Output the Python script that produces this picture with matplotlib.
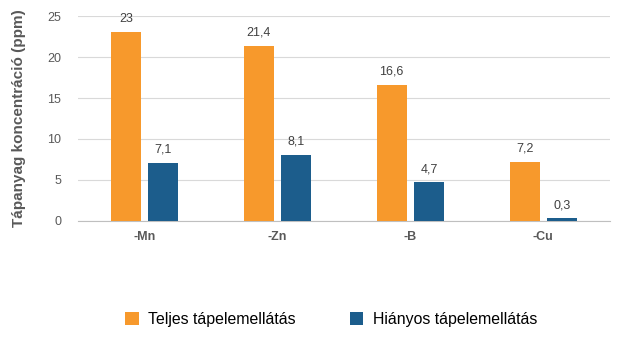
import matplotlib
matplotlib.use('Agg')
import matplotlib.pyplot as plt
import numpy as np

plt.rcParams['font.family'] = ['Liberation Sans', 'DejaVu Sans']

categories = ['-Mn', '-Zn', '-B', '-Cu']
teljes = [23, 21.4, 16.6, 7.2]
hianyos = [7.1, 8.1, 4.7, 0.3]
labels_teljes = ['23', '21,4', '16,6', '7,2']
labels_hianyos = ['7,1', '8,1', '4,7', '0,3']

ORANGE = '#F7992C'
BLUE = '#1C5D8C'
GRID = '#D9D9D9'
TXT = '#595959'

fig = plt.figure(figsize=(6.19, 3.42), dpi=100)
ax = fig.add_axes([0.126, 0.354, 0.859, 0.599])

x = np.arange(len(categories))
w = 0.225
off = 0.14
b1 = ax.bar(x - off, teljes, w, color=ORANGE, zorder=3, label='Teljes tápelemellátás')
b2 = ax.bar(x + off, hianyos, w, color=BLUE, zorder=3, label='Hiányos tápelemellátás')

for bar, lab in zip(b1, labels_teljes):
    ax.text(bar.get_x() + bar.get_width() / 2, bar.get_height() + 0.9, lab,
            ha='center', va='bottom', fontsize=9, color='#404040')
for bar, lab in zip(b2, labels_hianyos):
    ax.text(bar.get_x() + bar.get_width() / 2, bar.get_height() + 0.9, lab,
            ha='center', va='bottom', fontsize=9, color='#404040')

ax.set_xlim(-0.5, len(categories) - 0.5)
ax.set_ylim(0, 25)
ax.set_yticks([0, 5, 10, 15, 20, 25])
ax.set_xticks(x)
ax.set_xticklabels(categories, fontsize=9, fontweight='bold', color=TXT)
ax.tick_params(axis='y', labelsize=9, labelcolor=TXT, length=0, pad=12)
ax.tick_params(axis='x', length=0, pad=7)
ax.grid(axis='y', color=GRID, linewidth=0.8, zorder=0)
for s in ['top', 'right', 'left']:
    ax.spines[s].set_visible(False)
ax.spines['bottom'].set_color('#BFBFBF')

ax.set_ylabel('Tápanyag koncentráció (ppm)', fontsize=11, fontweight='bold',
              color=TXT, labelpad=15)

fig.legend(handles=[b1, b2], loc='center', bbox_to_anchor=(0.535, 0.065), ncol=2,
           frameon=False, fontsize=11.4, handlelength=0.85, handleheight=0.85,
           columnspacing=3.4, handletextpad=0.6)

fig.savefig('out.png', dpi=100, facecolor='white')
